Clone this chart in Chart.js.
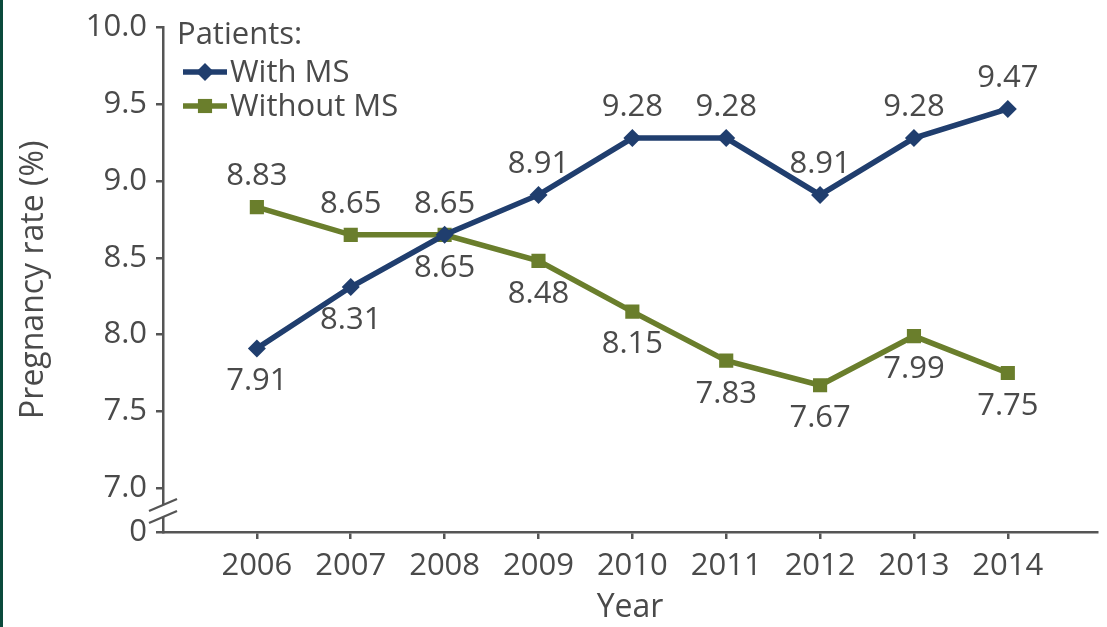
<!DOCTYPE html>
<html>
<head>
<meta charset="utf-8">
<script src="https://cdn.jsdelivr.net/npm/chart.js@4.4.1/dist/chart.umd.min.js"></script>
<style>
html, body { margin: 0; padding: 0; background: #fff; }
#wrap { position: relative; width: 1107px; height: 627px; }
#edge { position: absolute; left: 0; top: 0; width: 3px; height: 627px; background: #0b4a3c; }
</style>
</head>
<body>
<div id="wrap">
    <canvas id="rate_chart" width="1107" height="627"></canvas>
    <div id="edge"></div>
</div>
<script>
const years = [2006, 2007, 2008, 2009, 2010, 2011, 2012, 2013, 2014]
const with_ms = [7.91, 8.31, 8.65, 8.91, 9.28, 9.28, 8.91, 9.28, 9.47]
const without_ms = [8.83, 8.65, 8.65, 8.48, 8.15, 7.83, 7.67, 7.99, 7.75]
const y_ticks = [7.0, 7.5, 8.0, 8.5, 9.0, 9.5, 10.0]
const y_floor = 6.714   // bottom of the broken axis, shown as 0

const text_color = '#4a4a4a'
const axis_color = '#555'
const font_family = '"Open Sans", "Noto Sans", sans-serif'

// which side of the point each value label sits on
const label_side = [
    ['below', 'below', 'below', 'above', 'above', 'above', 'above', 'above', 'above'],
    ['above', 'above', 'above', 'below', 'below', 'below', 'below', 'below', 'below']
]

let rate_chart = null

const value_labels = {
    id: 'value_labels',
    afterDatasetsDraw(chart)
    {
        const ctx = chart.ctx
        ctx.save()
        ctx.font = '31px ' + font_family
        ctx.fillStyle = text_color
        ctx.textAlign = 'center'
        ctx.textBaseline = 'middle'
        chart.data.datasets.forEach((ds, i) => {
            const meta = chart.getDatasetMeta(i)
            meta.data.forEach((pt, j) => {
                const dy = label_side[i][j] === 'above' ? -31 : 33
                ctx.fillText(ds.data[j].y.toFixed(2), pt.x, pt.y + dy)
            })
        })
        ctx.restore()
    }
}

// the // marks between 7.0 and 0 on the y axis
const axis_break = {
    id: 'axis_break',
    afterDraw(chart)
    {
        const ctx = chart.ctx
        const y = chart.scales.y
        const x0 = chart.chartArea.left
        const mid = (y.getPixelForValue(7.0) + y.getPixelForValue(y_floor)) / 2 + 1
        const up = mid - 6, down = mid + 6
        ctx.save()
        ctx.fillStyle = '#fff'
        ctx.beginPath()
        ctx.moveTo(x0 - 4, up + 2)
        ctx.lineTo(x0 + 4, up - 2)
        ctx.lineTo(x0 + 4, down - 2)
        ctx.lineTo(x0 - 4, down + 2)
        ctx.closePath()
        ctx.fill()
        ctx.strokeStyle = axis_color
        ctx.lineWidth = 2.2
        ;[up, down].forEach(c => {
            ctx.beginPath()
            ctx.moveTo(x0 - 14, c + 6)
            ctx.lineTo(x0 + 14, c - 6)
            ctx.stroke()
        })
        ctx.restore()
    }
}

const inner_legend = {
    id: 'inner_legend',
    afterDraw(chart)
    {
        const ctx = chart.ctx
        ctx.save()
        ctx.font = '31px ' + font_family
        ctx.fillStyle = text_color
        ctx.textAlign = 'left'
        ctx.textBaseline = 'middle'
        ctx.fillText('Patients:', 177, 35)
        chart.data.datasets.forEach((ds, i) => {
            const cy = 72 + i * 34
            ctx.strokeStyle = ds.borderColor
            ctx.lineWidth = ds.borderWidth
            ctx.beginPath()
            ctx.moveTo(183, cy)
            ctx.lineTo(227, cy)
            ctx.stroke()
            ctx.fillStyle = ds.pointBackgroundColor
            Chart.helpers.drawPoint(ctx, {pointStyle: ds.pointStyle, radius: ds.pointRadius, borderWidth: 0}, 205, cy)
            ctx.fillStyle = text_color
            ctx.fillText(ds.label, 230, cy + 1)
        })
        ctx.restore()
    }
}

function series(values)
{
    return years.map((yr, i) => ({x: yr, y: values[i]}))
}

function load_rate_chart()
{
    const ctx = document.getElementById('rate_chart').getContext('2d')

    if(rate_chart)
        rate_chart.destroy()

    rate_chart = new Chart(ctx,
        {
            type: 'line',
            data: {
                datasets: [
                    {
                        label: 'With MS',
                        data: series(with_ms),
                        borderColor: '#203e6e',
                        pointBackgroundColor: '#203e6e',
                        borderWidth: 5.5,
                        pointStyle: 'rectRot',
                        pointRadius: 9,
                        pointBorderWidth: 0
                    },
                    {
                        label: 'Without MS',
                        data: series(without_ms),
                        borderColor: '#6a7e2c',
                        pointBackgroundColor: '#6a7e2c',
                        borderWidth: 5.5,
                        pointStyle: 'rect',
                        pointRadius: 10,
                        pointBorderWidth: 0
                    }
                ]
            },
            options: {
                responsive: false,
                animation: false,
                layout: {padding: {top: 27, right: 0, left: 0, bottom: 0}},
                plugins: {
                    legend: {display: false},
                    tooltip: {enabled: false}
                },
                scales: {
                    x: {
                        type: 'linear',
                        min: 2005,
                        max: 2014.95,
                        afterBuildTicks: s => { s.ticks = years.map(v => ({value: v})) },
                        afterFit: s => { s.height = 95 },
                        grid: {drawOnChartArea: false, color: axis_color, lineWidth: 2.5, tickLength: 7},
                        border: {color: axis_color, width: 2.5},
                        ticks: {
                            color: text_color,
                            font: {size: 31, family: font_family},
                            padding: 9,
                            maxRotation: 0,
                            autoSkip: false,
                            callback: v => String(v)
                        },
                        title: {
                            display: true,
                            text: 'Year',
                            color: text_color,
                            font: {size: 32, family: font_family},
                            padding: {top: 0, bottom: 0}
                        }
                    },
                    y: {
                        min: y_floor,
                        max: 10,
                        afterBuildTicks: s => { s.ticks = [y_floor, ...y_ticks].map(v => ({value: v})) },
                        afterFit: s => { s.width = 163 },
                        grid: {drawOnChartArea: false, color: axis_color, lineWidth: 2.5, tickLength: 7},
                        border: {color: axis_color, width: 2.5},
                        ticks: {
                            color: text_color,
                            font: {size: 31, family: font_family},
                            padding: 9,
                            autoSkip: false,
                            callback: v => v === y_floor ? '0' : v.toFixed(1)
                        },
                        title: {
                            display: true,
                            text: 'Pregnancy rate (%)',
                            color: text_color,
                            font: {size: 32, family: font_family},
                            padding: {top: 15, bottom: 0}
                        }
                    }
                }
            },
            plugins: [value_labels, axis_break, inner_legend]
        }
    )
}

function init()
{
    load_rate_chart()
}

init()
</script>
</body>
</html>
